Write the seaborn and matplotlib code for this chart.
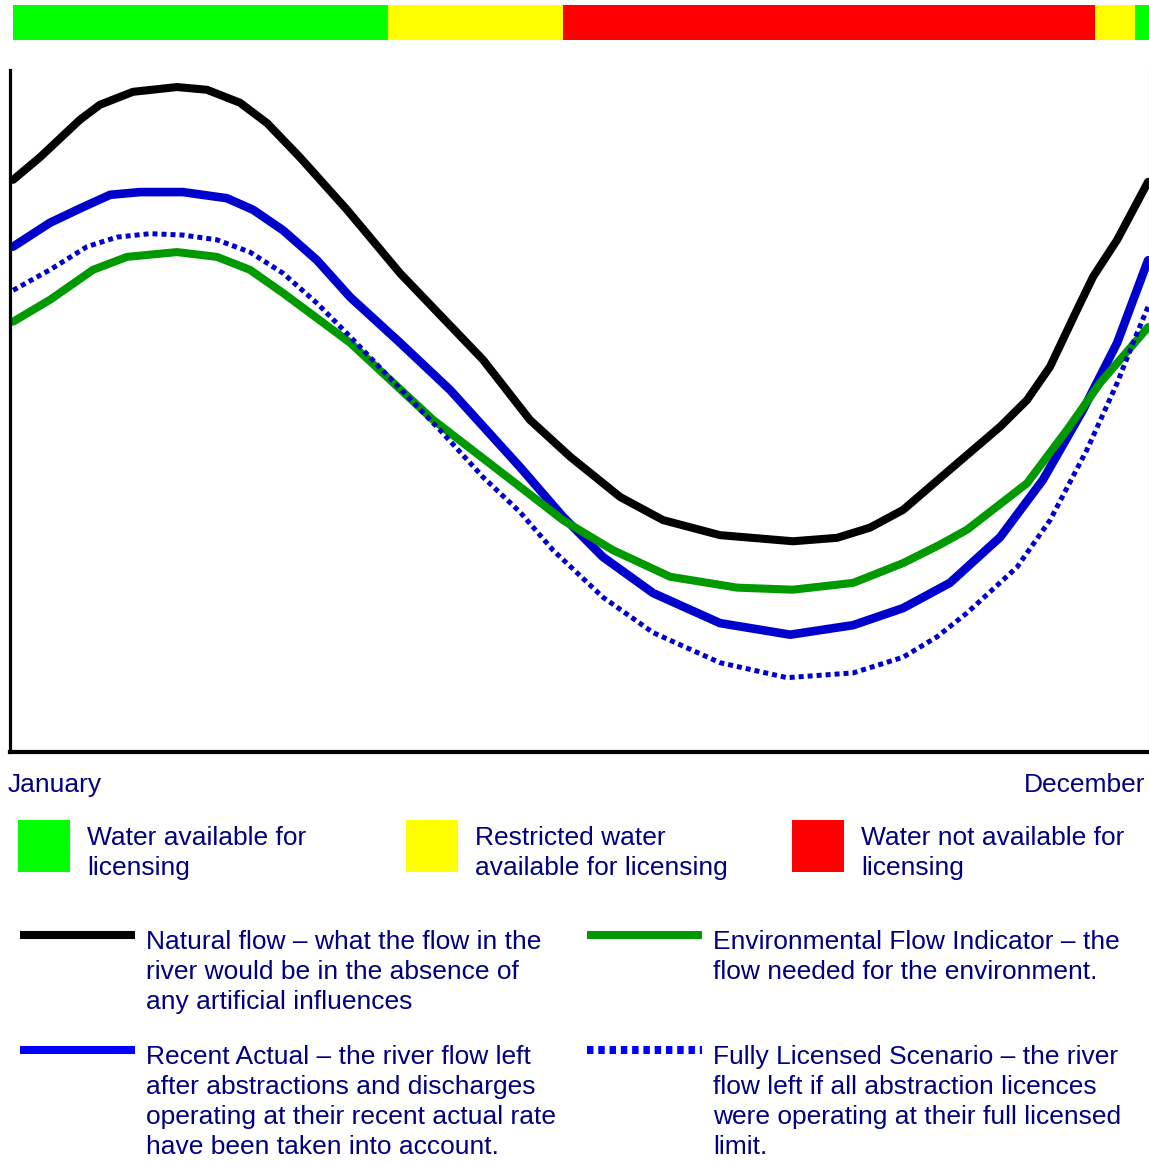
import numpy as np
import pandas as pd
import matplotlib
matplotlib.use("Agg")
import matplotlib.pyplot as plt
import seaborn as sns
from matplotlib.lines import Line2D
from matplotlib.patches import Rectangle

# day of year vs relative flow (0-100)
natural_day = [1.0, 9.6, 22.4, 28.8, 39.4, 53.5, 63.1, 73.7, 82.4, 92.9, 108.0, 125.0,
               151.6, 166.6, 179.5, 195.5, 209.3, 227.5, 250.9, 265.0, 275.6, 286.2,
               301.2, 317.3, 325.9, 333.3, 341.9, 347.1, 354.8, 364.7]
natural_flow = [83.9, 87.2, 92.7, 94.9, 96.8, 97.5, 97.1, 95.2, 92.2, 87.2, 79.5, 70.2,
                57.5, 48.7, 43.3, 37.4, 34.0, 31.8, 30.9, 31.4, 32.9, 35.5,
                41.4, 47.7, 51.6, 56.5, 64.8, 69.7, 75.1, 83.6]

actual_day = [1.0, 12.8, 23.4, 32.1, 41.7, 55.4, 69.5, 77.9, 87.5, 98.4, 109.0, 125.0,
              141.0, 163.4, 177.2, 190.0, 206.1, 227.5, 250.0, 270.2, 286.2, 301.2,
              317.3, 331.0, 343.9, 354.8, 364.7]
actual_flow = [74.1, 77.6, 79.9, 81.7, 82.1, 82.1, 81.2, 79.5, 76.5, 72.1, 66.7, 60.0,
               53.1, 41.8, 34.5, 28.6, 23.3, 18.9, 17.2, 18.6, 21.1, 24.8,
               31.5, 39.9, 50.2, 60.0, 72.1]

efi_day = [1.0, 12.8, 26.6, 37.5, 53.5, 66.3, 76.9, 87.5, 98.4, 109.0, 135.6, 163.4,
           177.2, 193.2, 211.5, 233.0, 250.9, 270.2, 286.2, 298.0, 306.7, 325.9,
           338.7, 349.3, 364.7]
efi_flow = [63.1, 66.3, 70.7, 72.6, 73.3, 72.6, 70.7, 67.3, 63.6, 60.0, 48.7, 38.9,
            34.0, 29.6, 25.7, 24.1, 23.8, 24.8, 27.7, 30.4, 32.6, 39.4,
            47.2, 54.1, 62.3]

licensed_day = [1.0, 12.8, 24.7, 34.3, 44.9, 55.4, 66.3, 76.9, 87.5, 98.4, 109.0, 137.8,
                151.6, 163.4, 174.0, 190.0, 206.1, 227.5, 249.0, 270.2, 286.2, 297.1,
                306.7, 322.7, 333.3, 345.1, 354.8, 359.9, 364.7]
licensed_flow = [67.7, 70.7, 74.1, 75.5, 76.0, 75.8, 75.1, 73.3, 70.2, 65.8, 60.9, 47.2,
                 40.3, 35.2, 29.6, 22.7, 17.5, 13.1, 10.9, 11.6, 13.9, 16.9,
                 20.4, 27.1, 34.0, 44.3, 54.1, 60.0, 65.3]

# availability bands along the top
band_start = [1.0, 121.1, 177.2, 347.7, 360.6]
band_end = [121.1, 177.2, 347.7, 360.6, 365.0]
band_colour = ["#00ff00", "#ffff00", "#ff0000", "#ffff00", "#00ff00"]

TXT = "#000080"
W, H = 1149, 1162

sns.set_style("white")
plt.rcParams["font.family"] = ["Liberation Sans", "DejaVu Sans"]

fig = plt.figure(figsize=(W / 100, H / 100), dpi=100)


def fx(px):
    return px / W


def fy(py):
    return 1 - py / H


ax = fig.add_axes([fx(10), fy(752), fx(1149) - fx(10), fy(70) - fy(752)])
ax_bar = fig.add_axes([fx(10), fy(40), fx(1149) - fx(10), fy(5) - fy(40)])

# top band
ax_bar.barh(0, np.array(band_end) - np.array(band_start), left=band_start,
            height=1, color=band_colour, linewidth=0)
ax_bar.set_xlim(0, 365)
ax_bar.set_ylim(-0.5, 0.5)
ax_bar.axis("off")

natural = pd.DataFrame({"day": natural_day, "flow": natural_flow})
actual = pd.DataFrame({"day": actual_day, "flow": actual_flow})
efi = pd.DataFrame({"day": efi_day, "flow": efi_flow})
licensed = pd.DataFrame({"day": licensed_day, "flow": licensed_flow})

sns.lineplot(data=natural, x="day", y="flow", ax=ax, color="black", lw=5.8,
             sort=False, solid_joinstyle="round")
sns.lineplot(data=actual, x="day", y="flow", ax=ax, color="#0000cc", lw=6.2,
             sort=False, solid_joinstyle="round")
sns.lineplot(data=efi, x="day", y="flow", ax=ax, color="#009900", lw=5.8,
             sort=False, solid_joinstyle="round")
sns.lineplot(data=licensed, x="day", y="flow", ax=ax, color="#0000cc", lw=3.6,
             sort=False, linestyle=(0, (1.0, 0.8)), dash_capstyle="butt")

ax.set_xlim(0, 365)
ax.set_ylim(0, 100)
ax.set_xticks([])
ax.set_yticks([])
ax.set_xlabel("")
ax.set_ylabel("")
ax.spines["top"].set_visible(False)
ax.spines["left"].set_linewidth(2.3)
ax.spines["left"].set_color("black")
ax.spines["bottom"].set_linewidth(3.0)
ax.spines["bottom"].set_color("black")
ax.spines["right"].set_linewidth(0.8)
ax.spines["right"].set_color("#888888")

FS = 19
LS = 1.31
fig.text(fx(8), fy(785), "January", color=TXT, fontsize=FS, ha="left", va="center")
fig.text(fx(1145), fy(785), "December", color=TXT, fontsize=FS, ha="right", va="center")

# colour key
for x0, col, label in [(18, "#00ff00", "Water available for\nlicensing"),
                       (406, "#ffff00", "Restricted water\navailable for licensing"),
                       (792, "#ff0000", "Water not available for\nlicensing")]:
    fig.add_artist(Rectangle((fx(x0), fy(872)), fx(52), fy(820) - fy(872),
                             transform=fig.transFigure, color=col, lw=0))
    fig.text(fx(x0 + 69), fy(826), label, color=TXT, fontsize=FS, ha="left",
             va="top", linespacing=LS)

# line key
key = [
    (20, 935, dict(color="black", lw=5.8),
     "Natural flow – what the flow in the\nriver would be in the absence of\nany artificial influences"),
    (587, 935, dict(color="#009900", lw=5.8),
     "Environmental Flow Indicator – the\nflow needed for the environment."),
    (20, 1050, dict(color="#0000ff", lw=5.8),
     "Recent Actual – the river flow left\nafter abstractions and discharges\noperating at their recent actual rate\nhave been taken into account."),
    (587, 1050, dict(color="#0000ff", lw=5.8, linestyle=(0, (0.8, 0.6)), dash_capstyle="butt"),
     "Fully Licensed Scenario – the river\nflow left if all abstraction licences\nwere operating at their full licensed\nlimit."),
]
for x0, y0, style, label in key:
    fig.add_artist(Line2D([fx(x0), fx(x0 + 115)], [fy(y0), fy(y0)],
                          transform=fig.transFigure, solid_capstyle="butt", **style))
    fig.text(fx(x0 + 126), fy(y0 - 5), label, color=TXT, fontsize=FS, ha="left",
             va="top", linespacing=LS)

fig.savefig("out.png", dpi=100)
